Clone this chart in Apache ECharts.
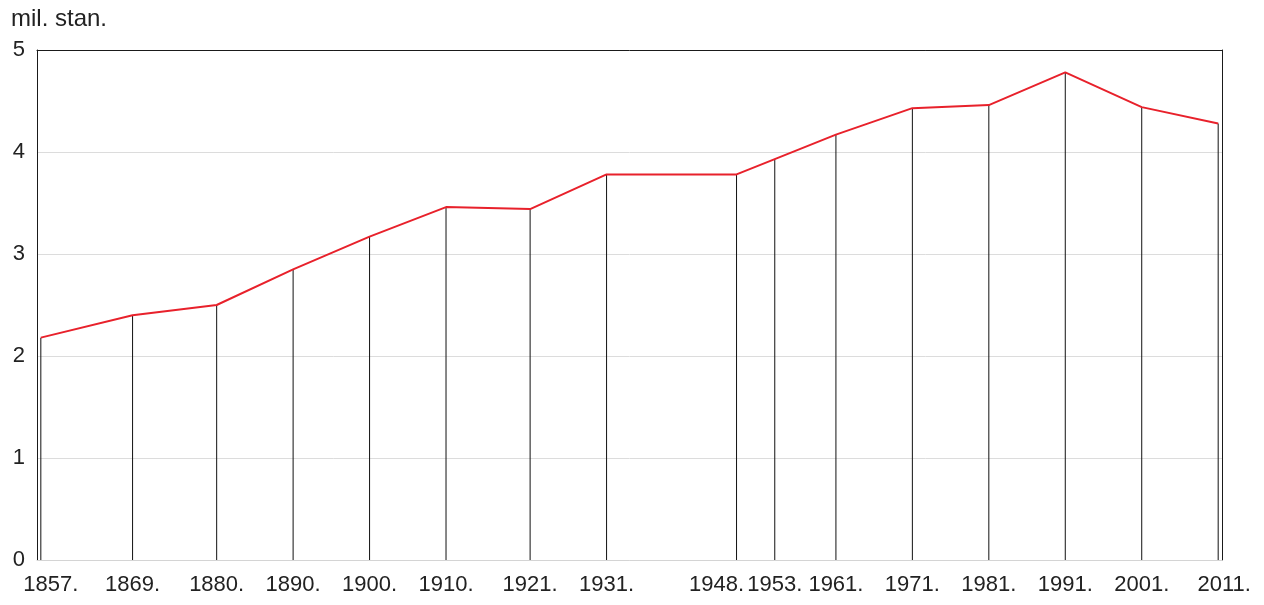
<!DOCTYPE html>
<html>
<head>
<meta charset="utf-8">
<script src="https://cdn.jsdelivr.net/npm/echarts@6/dist/echarts.min.js"></script>
<style>
html, body { margin: 0; padding: 0; background: #fff; }
#chart { width: 1264px; height: 605px; }
</style>
</head>
<body>
<div id="chart"></div>
<script>
// popisne godine i broj stanovnika (mil.)
var years = [1857, 1869, 1880, 1890, 1900, 1910, 1921, 1931, 1948, 1953, 1961, 1971, 1981, 1991, 2001, 2011];
var population = [2.18, 2.40, 2.50, 2.85, 3.17, 3.46, 3.44, 3.78, 3.78, 3.93, 4.17, 4.43, 4.46, 4.78, 4.44, 4.28];
var yTicks = [0, 1, 2, 3, 4, 5];

var points = years.map(function (y, i) { return [y, population[i]]; });

var labelFont = 22;
var chart = echarts.init(document.getElementById('chart'));
var option = {
    animation: false,
    textStyle: { fontFamily: 'Liberation Sans, Arial, sans-serif' },
    title: {
        text: 'mil. stan.',
        left: 6,
        top: 2,
        textStyle: { fontSize: 24, fontWeight: 'normal', color: '#222' }
    },
    grid: {
        left: 37,
        top: 50,
        right: 42,
        bottom: 45,
        containLabel: false
    },
    xAxis: [{
        type: 'value',
        min: 1856.5,
        max: 2011.5,
        axisLine: { onZero: false, lineStyle: { color: '#d4d4d4', width: 1 } },
        axisTick: { show: false },
        splitLine: { show: false },
        axisLabel: {
            customValues: years,
            // 1948. pomaknut ulijevo da se ne preklapa
            formatter: function (v) {
                if (v === 1857) return '{r|' + v + '.}';
                if (v === 1948) return '{l|' + v + '.}';
                if (v === 2011) return '{e|' + v + '.}';
                return v + '.';
            },
            rich: {
                r: { fontSize: labelFont, color: '#222', padding: [0, 0, 0, 20] },
                l: { fontSize: labelFont, color: '#222', padding: [0, 40, 0, 0] },
                e: { fontSize: labelFont, color: '#222', padding: [0, 0, 0, 12] }
            },
            fontSize: labelFont,
            color: '#222',
            margin: 14,
            showMinLabel: true,
            showMaxLabel: true
        }
    }, {
        // gornji rub okvira
        type: 'value',
        position: 'top',
        min: 1856.5,
        max: 2011.5,
        axisLine: { onZero: false, lineStyle: { color: '#1a1a1a', width: 1 } },
        axisTick: { show: false },
        axisLabel: { show: false },
        splitLine: { show: false }
    }],
    yAxis: [{
        type: 'value',
        min: 0,
        max: 5,
        interval: 1,
        axisLine: { show: true, onZero: false, lineStyle: { color: '#1a1a1a', width: 1 } },
        axisTick: { show: false },
        splitLine: { lineStyle: { color: '#dcdcdc', width: 1 } },
        axisLabel: {
            fontSize: labelFont,
            color: '#222',
            margin: 12,
            customValues: yTicks
        }
    }, {
        // desni rub okvira
        type: 'value',
        position: 'right',
        min: 0,
        max: 5,
        interval: 1,
        axisLine: { show: true, onZero: false, lineStyle: { color: '#1a1a1a', width: 1 } },
        axisTick: { show: false },
        axisLabel: { show: false },
        splitLine: { show: false }
    }],
    series: [
        {
            // okomite linije do osi
            type: 'bar',
            barWidth: 1,
            data: points,
            itemStyle: { color: '#111' },
            z: 1
        },
        {
            type: 'line',
            data: points,
            symbol: 'none',
            lineStyle: { color: '#e8212b', width: 2 },
            z: 3
        }
    ]
};
chart.setOption(option);
</script>
</body>
</html>
